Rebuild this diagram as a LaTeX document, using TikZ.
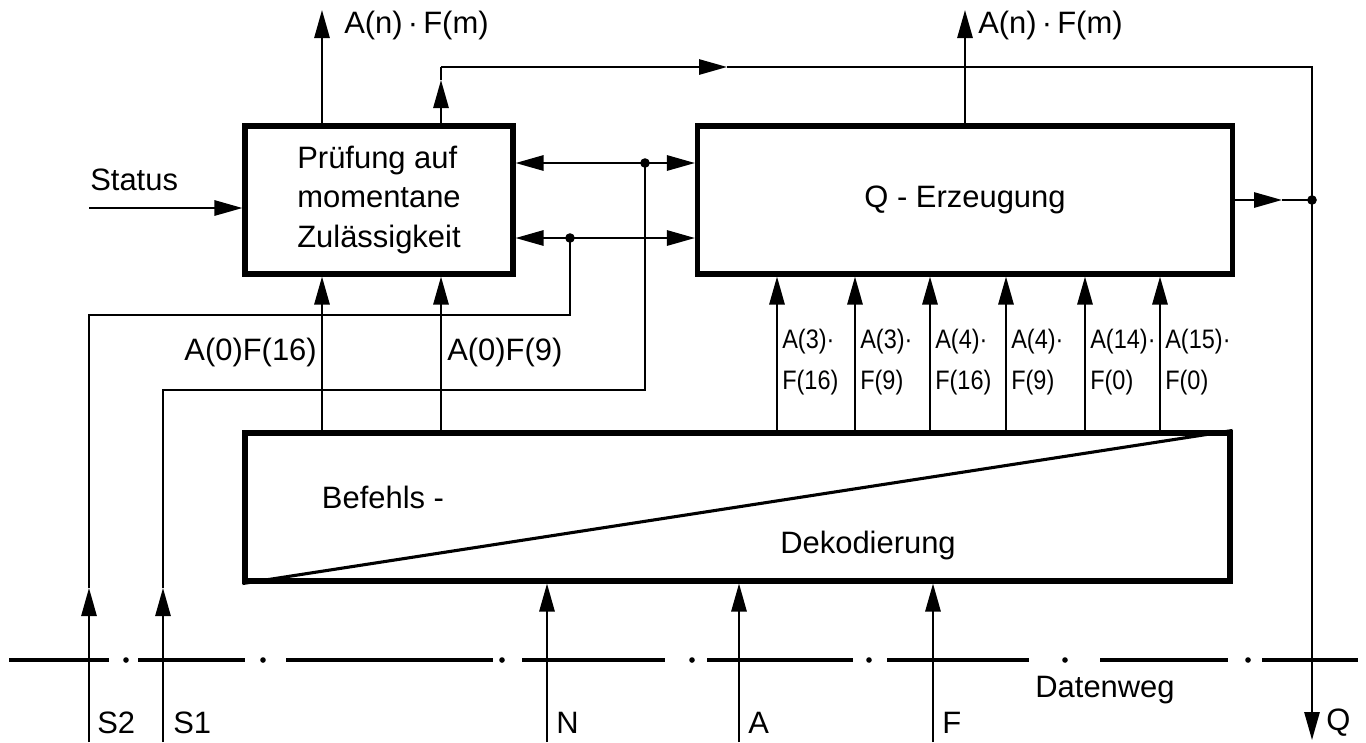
\documentclass[tikz,border=0pt]{standalone}
\usepackage{fontspec}
\setmainfont{Liberation Sans}
\newfontfamily\narrowfont{Liberation Sans}[FakeStretch=0.88]
\usepackage{tikz}
\usetikzlibrary{arrows.meta,positioning}

\begin{document}
\begin{tikzpicture}[x=0.25mm, y=-0.25mm, inner sep=0pt,
    font=\fontsize{22}{28}\selectfont,
    block/.style={draw, line width=3.6pt},
    wire/.style={line width=1.6pt},
    arr/.style={wire, -{Triangle[length=7mm, width=3.8mm]}},
    dblarr/.style={wire, {Triangle[length=7mm, width=3.8mm]}-{Triangle[length=7mm, width=3.8mm]}},
    bus/.style={line width=2.6pt},
    sig/.style={font=\narrowfont\fontsize{19}{29}\selectfont, align=left}]

    \useasboundingbox (0,0) rectangle (1366,742);

    % Bloecke
    \node[block, minimum width=67mm, minimum height=37mm, align=left] (pruef) at (379,200) {Prüfung auf\\momentane\\Zulässigkeit};
    \node[block, minimum width=133.75mm, minimum height=37mm] (qerz) at (965,200) {Q - Erzeugung};
    \node[block, minimum width=246.25mm, minimum height=37mm] (dekod) at (737.5,507) {};
    \draw[line width=2.2pt] (dekod.south west) -- (dekod.north east);
    \node (befehl) at (383,497) {Befehls -};
    \node (dekodtxt) at (868,545) {Dekodierung};

    % Datenweg
    \foreach \a/\b in {9/109, 138/245, 286/493, 522/665, 707/853, 887/1029, 1100/1228, 1262/1358}
        \draw[bus] (\a,660) -- (\b,660);
    \foreach \d in {126, 263, 502, 692, 869, 1065, 1248}
        \fill (\d,660) circle (0.7mm);
    \node (datenweg) at (1105,690) {Datenweg};

    \coordinate (status) at (89,208);
    \coordinate (anfL) at (322,10);
    \coordinate (anfR) at (965,10);
    \coordinate (tl) at (441,67);
    \coordinate (tlm) at (441,80);
    \coordinate (tla) at (727,67);
    \coordinate (tr) at (1312,67);
    \coordinate (qdot) at (1312,200);
    \coordinate (qam) at (1282,200);
    \coordinate (q) at (1312,740);
    \coordinate (d1) at (645,163);
    \coordinate (d2) at (570,238);
    \coordinate (s2) at (89,742);
    \coordinate (s2m) at (89,588);
    \coordinate (s2k) at (89,315);
    \coordinate (s1) at (163,742);
    \coordinate (s1m) at (163,588);
    \coordinate (s1k) at (163,390);

    % Eingang, Ausgaenge
    \draw[arr] (status) -- (status -| pruef.west);
    \node[anchor=west] (statuslab) at (90,180) {Status};
    \draw[arr] (pruef.north -| anfL) -- (anfL);
    \node[anchor=west] (anfLlab) at (344,25) {A(n)\,·\,F(m)};
    \draw[arr] (qerz.north) -- (anfR);
    \node[anchor=west] (anfRlab) at (978,25) {A(n)\,·\,F(m)};
    \draw[arr] (pruef.north -| tl) -- (tlm);
    \draw[wire] (tlm) -- (tl);
    \draw[arr] (tl) -- (tla);
    \draw[wire] (tla) -- (tr) -- (qdot);
    \draw[arr] (qerz.east) -- (qam);
    \draw[wire] (qam) -- (qdot);
    \draw[arr] (qdot) -- (q);
    \fill (qdot) circle (1.2mm);
    \node[anchor=west] (qlab) at (1326,723) {Q};

    % Querverbindungen
    \draw[dblarr] (pruef.east |- d1) -- (qerz.west |- d1);
    \draw[dblarr] (pruef.east |- d2) -- (qerz.west |- d2);
    \fill (d1) circle (1.2mm);
    \fill (d2) circle (1.2mm);
    \draw[arr] (s2) -- (s2m);
    \draw[wire] (s2m) -- (s2k) -| (d2);
    \draw[arr] (s1) -- (s1m);
    \draw[wire] (s1m) -- (s1k) -| (d1);
    \node[anchor=west] (s2lab) at (97,723) {S2};
    \node[anchor=west] (s1lab) at (173,723) {S1};

    % Dekodierung -> Pruefung
    \foreach \x in {322,441} {
        \coordinate (c\x) at (\x,0);
        \draw[arr] (dekod.north -| c\x) -- (pruef.south -| c\x);
    }
    \node[anchor=east] (f16lab) at (317,352) {A(0)F(16)};
    \node[anchor=west] (f9lab) at (447,352) {A(0)F(9)};

    % Dekodierung -> Q-Erzeugung
    \foreach \x/\a/\f in {777/3/16, 855/3/9, 930/4/16, 1006/4/9, 1085/14/0, 1160/15/0} {
        \coordinate (e\x) at (\x,0);
        \draw[arr] (dekod.north -| e\x) -- (qerz.south -| e\x);
        \node[sig, anchor=west] (lab\x) at (\x+5,362) {A(\a)·\\F(\f)};
    }

    % Datenweg -> Dekodierung
    \foreach \x/\t in {547/N, 739/A, 933/F} {
        \coordinate (in\t) at (\x,742);
        \draw[arr] (in\t) -- (dekod.south -| in\t);
        \node[anchor=west] (lab\t) at (\x+9,723) {\t};
    }
\end{tikzpicture}
\end{document}
